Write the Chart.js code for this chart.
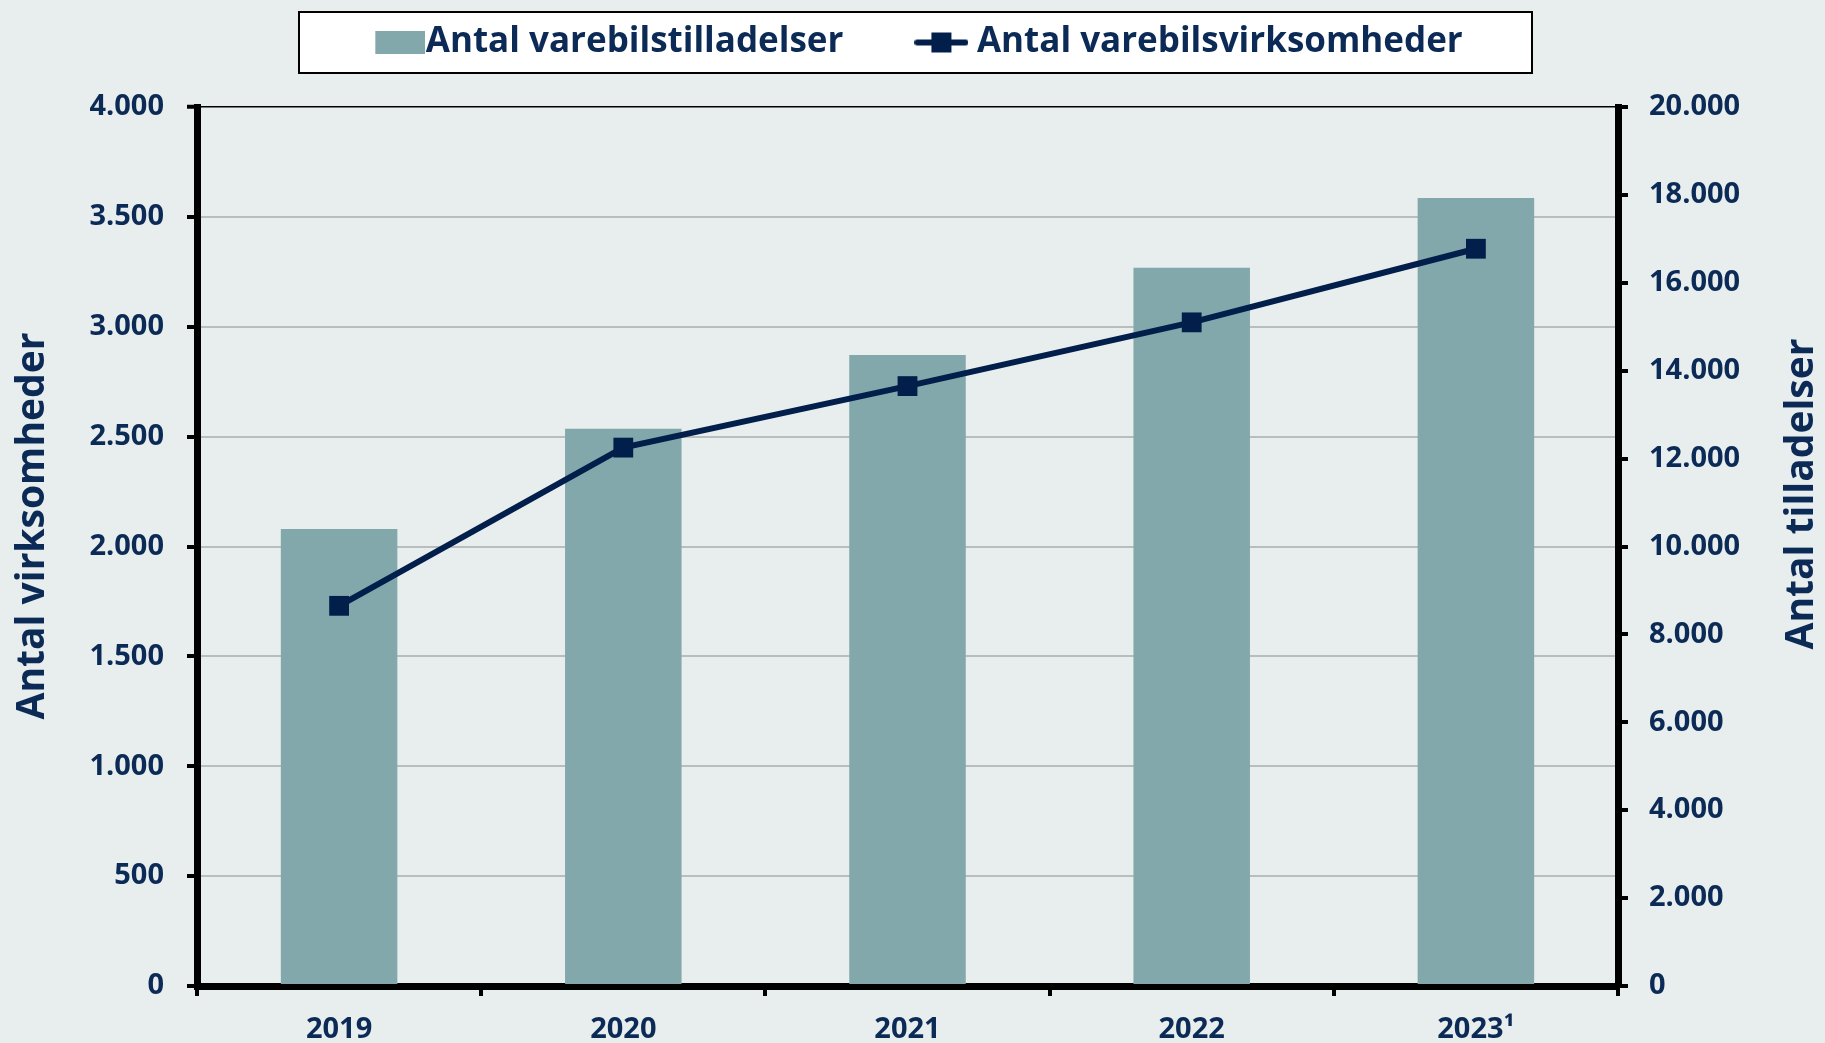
<!DOCTYPE html>
<html lang="da">
<head>
<meta charset="utf-8">
<title>Varebilstilladelser og varebilsvirksomheder</title>
<script src="https://cdn.jsdelivr.net/npm/chart.js@4.4.1/dist/chart.umd.min.js"></script>
<style>
    html, body { margin: 0; padding: 0; background: #e8eeee; }
    canvas { display: block; }
</style>
</head>
<body>
<canvas id="varebilChart" width="1825" height="1043"></canvas>
<script>
// Data
const years = ['2019', '2020', '2021', '2022', '2023\u00b9'];
const tilladelser = [10400, 12680, 14360, 16340, 17930];   // bars, right axis
const virksomheder = [1730, 2450, 2730, 3020, 3355];        // line, left axis

const barLabel = 'Antal varebilstilladelser';
const lineLabel = 'Antal varebilsvirksomheder';
const leftTitle = 'Antal virksomheder';
const rightTitle = 'Antal tilladelser';

const navy = '#0c2a56';
const lineColor = '#021e4b';
const barColor = '#82a8ac';
const gridColor = '#b9bdbd';
const fontFamily = "'Open Sans', 'Noto Sans', sans-serif";

// Danish thousands separator
function fmt(value) {
    return String(value).replace(/\B(?=(\d{3})+(?!\d))/g, '.');
}

// Small canvases used as legend icons
function makeSwatch(color) {
    const c = document.createElement('canvas');
    c.width = 70;
    c.height = 23;
    const g = c.getContext('2d');
    g.fillStyle = color;
    g.fillRect(20, 0, 50, c.height);   // shifted right, closer to the text
    return c;
}

function makeLineIcon(color) {
    const c = document.createElement('canvas');
    c.width = 54;
    c.height = 24;
    const g = c.getContext('2d');
    g.strokeStyle = color;
    g.lineWidth = 6;
    g.lineCap = 'round';
    g.beginPath();
    g.moveTo(3, 12);
    g.lineTo(51, 12);
    g.stroke();
    g.fillStyle = color;
    g.fillRect(17, 2, 20, 20);
    return c;
}

// Legend frame, axis titles and fixed legend height
const framePlugin = {
    id: 'frame',
    beforeInit(chart) {
        const origFit = chart.legend.fit;
        chart.legend.fit = function () {
            origFit.call(this);
            this.height = 162;
        };
    },
    beforeDraw(chart) {
        const ctx = chart.ctx;
        ctx.save();
        ctx.fillStyle = '#ffffff';
        ctx.fillRect(299, 12, 1233, 61);
        ctx.strokeStyle = '#000000';
        ctx.lineWidth = 2;
        ctx.strokeRect(299, 12, 1233, 61);
        ctx.restore();
    },
    afterDraw(chart) {
        const ctx = chart.ctx;
        ctx.save();
        ctx.fillStyle = navy;
        ctx.font = 'bold 39px ' + fontFamily;
        ctx.textAlign = 'center';
        ctx.textBaseline = 'middle';
        ctx.translate(33, 526);
        ctx.rotate(-Math.PI / 2);
        ctx.fillText(leftTitle, 0, 0);
        ctx.restore();

        ctx.save();
        ctx.fillStyle = navy;
        ctx.font = 'bold 39px ' + fontFamily;
        ctx.textAlign = 'center';
        ctx.textBaseline = 'middle';
        ctx.translate(1802, 494);
        ctx.rotate(-Math.PI / 2);
        ctx.fillText(rightTitle, 0, 0);
        ctx.restore();
    }
};

function createChart() {
    const tickFont = { family: fontFamily, size: 29, weight: 'bold' };
    const ctx = document.getElementById('varebilChart').getContext('2d');

    new Chart(ctx, {
        data: {
            labels: years,
            datasets: [
                {
                    type: 'bar',
                    label: barLabel,
                    data: tilladelser,
                    yAxisID: 'y1',
                    backgroundColor: barColor,
                    barPercentage: 0.41,
                    categoryPercentage: 1,
                    order: 1
                },
                {
                    type: 'line',
                    label: lineLabel,
                    data: virksomheder,
                    yAxisID: 'y',
                    borderColor: lineColor,
                    borderWidth: 6,
                    pointStyle: 'rect',
                    pointRadius: 14,
                    pointBorderWidth: 0,
                    pointBackgroundColor: lineColor,
                    order: 0
                }
            ]
        },
        options: {
            responsive: false,
            animation: false,
            layout: {
                padding: { top: -55, left: 11, right: 1, bottom: 0 }
            },
            plugins: {
                tooltip: { enabled: false },
                legend: {
                    position: 'top',
                    labels: {
                        usePointStyle: true,
                        pointStyleWidth: 36,
                        boxHeight: 23,
                        padding: 80,
                        color: navy,
                        font: { family: fontFamily, size: 35, weight: 'bold' },
                        generateLabels: () => [
                            { text: barLabel, pointStyle: makeSwatch(barColor), fillStyle: barColor, strokeStyle: barColor, lineWidth: 0, hidden: false, datasetIndex: 0, fontColor: navy },
                            { text: lineLabel, pointStyle: makeLineIcon(lineColor), fillStyle: lineColor, strokeStyle: lineColor, lineWidth: 0, hidden: false, datasetIndex: 1, fontColor: navy }
                        ]
                    }
                }
            },
            scales: {
                x: {
                    z: 1,
                    grid: {
                        offset: true,
                        drawOnChartArea: false,
                        color: '#000000',
                        lineWidth: 4,
                        tickLength: 10
                    },
                    border: { color: '#000000', width: 7 },
                    ticks: { color: navy, font: tickFont, padding: 16 },
                    afterFit: (scale) => { scale.height = 57; }
                },
                y: {
                    position: 'left',
                    min: 0,
                    max: 4000,
                    ticks: {
                        stepSize: 500,
                        color: navy,
                        font: tickFont,
                        padding: 23,
                        callback: (value) => fmt(value)
                    },
                    grid: {
                        color: (c) => c.tick && c.tick.value === 4000 ? '#000000' : gridColor,
                        lineWidth: (c) => c.tick && c.tick.value === 4000 ? 1.5 : 2,
                        tickColor: '#000000',
                        tickWidth: 4,
                        tickLength: 10
                    },
                    border: { color: '#000000', width: 7 },
                    afterFit: (scale) => { scale.width = 186; }
                },
                y1: {
                    position: 'right',
                    min: 0,
                    max: 20000,
                    ticks: {
                        stepSize: 2000,
                        color: navy,
                        font: tickFont,
                        padding: 21,
                        callback: (value) => fmt(value)
                    },
                    grid: {
                        drawOnChartArea: false,
                        color: '#000000',
                        lineWidth: 4,
                        tickLength: 10
                    },
                    border: { color: '#000000', width: 7 },
                    afterFit: (scale) => { scale.width = 206; }
                }
            }
        },
        plugins: [framePlugin]
    });
}

createChart();
</script>
</body>
</html>
